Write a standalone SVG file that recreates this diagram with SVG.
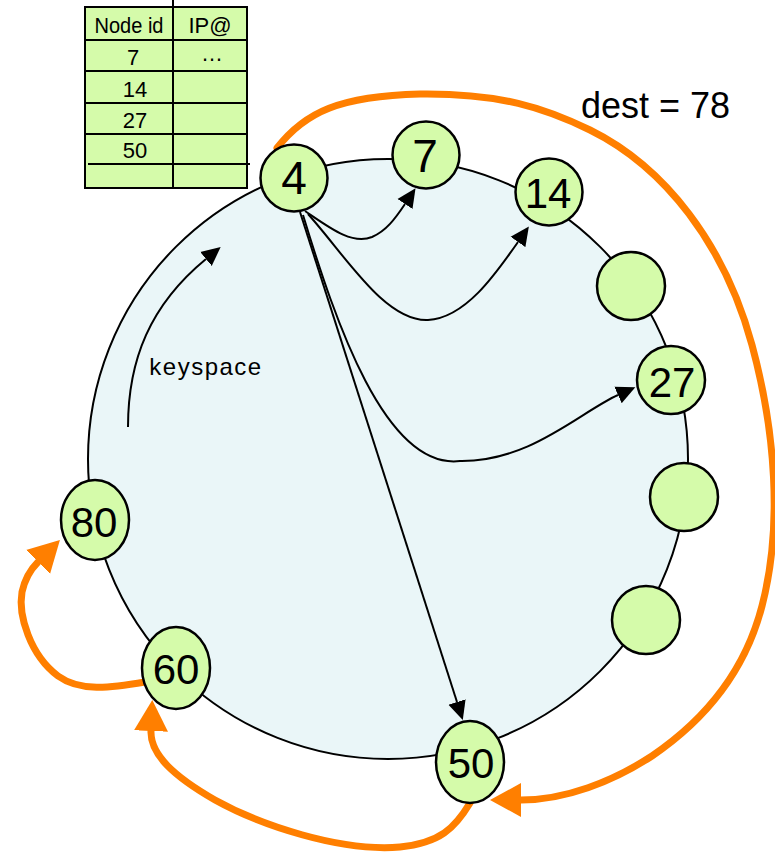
<svg xmlns="http://www.w3.org/2000/svg" width="775" height="855" viewBox="0 0 775 855">
  <style>
    .ring { fill: #eaf6f8; stroke: #000; stroke-width: 2; }
    .node { fill: #d5fbaa; stroke: #000; stroke-width: 2.5; }
    .lbl { font-family: "Liberation Sans", Arial, sans-serif; fill: #000; text-anchor: middle; }
    .big { font-size: 42px; }
    .huge { font-size: 46px; }
    .tbl { fill: #d5fbaa; stroke: #000; stroke-width: 2; }
    .grid { stroke: #000; stroke-width: 2; }
    .ttxt { font-family: "Liberation Sans", Arial, sans-serif; font-size: 22px; text-anchor: middle; fill: #000; }
    .finger { fill: none; stroke: #000; stroke-width: 2; marker-end: url(#blackHead); }
    .hop { fill: none; stroke: #ff7f00; stroke-width: 7; stroke-linecap: round; marker-end: url(#orangeHead); }
  </style>
  <defs>
    <marker id="blackHead" markerUnits="userSpaceOnUse" viewBox="0 -10 20 20" refX="0" refY="0" markerWidth="20" markerHeight="20" orient="auto">
      <path d="M0,-9 L19,0 L0,9 z" fill="#000"/>
    </marker>
    <marker id="orangeHead" markerUnits="userSpaceOnUse" viewBox="0 -18 33 36" refX="0" refY="0" markerWidth="33" markerHeight="36" orient="auto">
      <path d="M0,-17 L31,0 L0,17 z" fill="#ff7f00"/>
    </marker>
  </defs>

  <!-- identifier ring -->
  <circle id="ring" class="ring" cx="388" cy="459" r="300"/>

  <!-- routing table of node 4 -->
  <g id="finger-table">
    <rect class="tbl" x="85" y="7" width="162" height="181"/>
    <line class="grid" x1="173" y1="0" x2="173" y2="188"/>
    <line class="grid" x1="85" y1="40" x2="248" y2="40"/>
    <line class="grid" x1="85" y1="71" x2="248" y2="71"/>
    <line class="grid" x1="85" y1="103" x2="248" y2="103"/>
    <line class="grid" x1="85" y1="134" x2="248" y2="134"/>
    <line class="grid" x1="88" y1="164" x2="250" y2="164" stroke-width="2.5"/>
    <text class="ttxt" x="129" y="33" font-size="21" textLength="69" lengthAdjust="spacingAndGlyphs">Node id</text>
    <text class="ttxt" x="210" y="33" font-size="21">IP@</text>
    <text class="ttxt" x="133" y="65">7</text>
    <text class="ttxt" x="212" y="61" font-size="16">…</text>
    <text class="ttxt" x="135" y="97">14</text>
    <text class="ttxt" x="135" y="128">27</text>
    <text class="ttxt" x="135" y="158">50</text>
  </g>

  <!-- connectors -->
  <g id="connectors">
    <path id="keyspace-arrow" class="finger" d="M128,427 C128,360 150,305 206,259"/>
    <path id="e-4-7" class="finger" d="M305,211 C330,228 352,245 372,237 C386,231 395,219 405,204"/>
    <path id="e-4-14" class="finger" d="M308,214 C345,255 385,322 428,320 C465,318 495,275 518,242"/>
    <path id="e-4-27" class="finger" d="M303,215 C335,320 385,470 460,461 C530,462 580,412 618,395"/>
    <path id="e-4-50" class="finger" d="M300,212 L457,702"/>
    <path id="hop-4-50" class="hop" d="M277,148 C305,112 340,96 420,94 C500,93 545,108 590,130 C665,167 725,245 752,345 C775,430 783,525 762,606 C745,672 705,720 652,756 C612,782 565,800 521,800"/>
    <path id="hop-50-60" class="hop" d="M470,803 C455,828 440,843 400,847 C340,852 260,825 215,800 C175,777 150,755 151,731"/>
    <path id="hop-60-80" class="hop" d="M145,682 C110,688 80,692 58,676 C30,655 18,615 22,592 C25,578 30,570 38,562"/>
  </g>

  <text class="lbl" x="206" y="375" font-size="24" letter-spacing="1.5">keyspace</text>
  <text class="lbl" x="581" y="118" font-size="36" style="text-anchor:start">dest = 78</text>

  <!-- nodes -->
  <g id="node-4"><circle class="node" cx="294" cy="178" r="33.5"/><text class="lbl huge" x="294" y="194">4</text></g>
  <g id="node-7"><circle class="node" cx="426" cy="155" r="33.5"/><text class="lbl huge" x="425" y="172">7</text></g>
  <g id="node-14"><circle class="node" cx="549" cy="192" r="33.5"/><text class="lbl big" x="548" y="208">14</text></g>
  <g id="node-a"><circle class="node" cx="631" cy="286" r="34"/></g>
  <g id="node-27"><circle class="node" cx="671" cy="380" r="34"/><text class="lbl big" x="672" y="397">27</text></g>
  <g id="node-b"><circle class="node" cx="684" cy="497" r="34"/></g>
  <g id="node-c"><circle class="node" cx="646" cy="620" r="34"/></g>
  <g id="node-50"><ellipse class="node" cx="470" cy="762" rx="34" ry="41"/><text class="lbl big" x="471" y="778">50</text></g>
  <g id="node-60"><ellipse class="node" cx="176" cy="668" rx="34" ry="41"/><text class="lbl big" x="176" y="684">60</text></g>
  <g id="node-80"><ellipse class="node" cx="95" cy="520" rx="34" ry="40"/><text class="lbl big" x="94" y="537">80</text></g>
</svg>
